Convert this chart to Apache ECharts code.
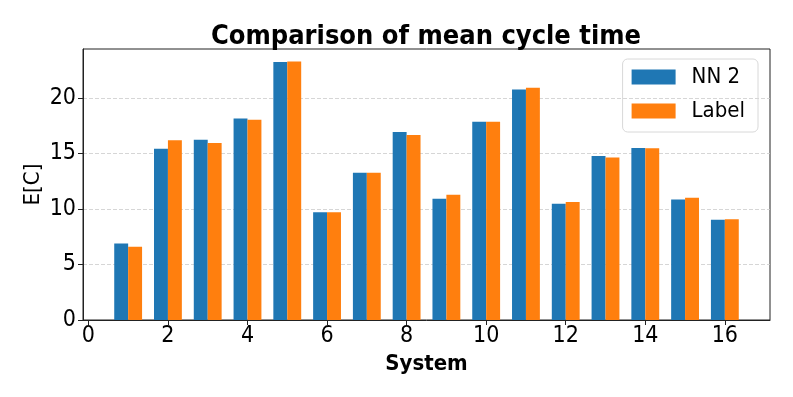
<!DOCTYPE html>
<html>
<head>
<meta charset="utf-8">
<script src="https://cdn.jsdelivr.net/npm/echarts@6/dist/echarts.min.js"></script>
<style>
  html, body { margin: 0; padding: 0; background: #fff; }
  #chart { width: 793px; height: 397px; }
</style>
</head>
<body>
<div id="chart"></div>
<script>
// systems 1..16
var systems = [1, 2, 3, 4, 5, 6, 7, 8, 9, 10, 11, 12, 13, 14, 15, 16];
var nn2 = [6.89, 15.43, 16.24, 18.14, 23.22, 9.71, 13.26, 16.93, 10.92, 17.86, 20.75, 10.47, 14.77, 15.49, 10.86, 9.02];
var label = [6.59, 16.18, 15.94, 18.02, 23.28, 9.71, 13.26, 16.66, 11.28, 17.86, 20.90, 10.62, 14.62, 15.46, 11.01, 9.08];
var xTicks = [0, 2, 4, 6, 8, 10, 12, 14, 16];
var yTicks = [0, 5, 10, 15, 20];

var barW = 0.35;
var font = 'DejaVu Sans Condensed';

var chart = echarts.init(document.getElementById('chart'));

// 画柱子，宽度按数据单位算
function barRender(offset) {
  return function (params, api) {
    var x = api.value(0) + offset;
    var y = api.value(1);
    var p0 = api.coord([x - barW / 2, y]);
    var p1 = api.coord([x + barW / 2, 0]);
    return {
      type: 'rect',
      shape: { x: p0[0], y: p0[1], width: p1[0] - p0[0], height: p1[1] - p0[1] },
      style: api.style()
    };
  };
}

chart.setOption({
  animation: false,
  textStyle: { fontFamily: font },
  title: {
    text: 'Comparison of mean cycle time',
    left: 421,
    textAlign: 'center',
    top: 18,
    textStyle: { fontFamily: font, fontWeight: 'bold', fontSize: 27, color: '#000' }
  },
  legend: {
    orient: 'vertical',
    right: 35,
    top: 59,
    padding: [7, 13, 10, 9],
    itemWidth: 44,
    itemHeight: 15,
    itemGap: 12,
    borderColor: '#d8d8d8',
    borderWidth: 1,
    borderRadius: 5,
    textStyle: { fontFamily: font, fontSize: 22, lineHeight: 22, color: '#000', padding: [0, 0, 0, 11] },
    data: [{ name: 'NN 2', icon: 'rect' }, { name: 'Label', icon: 'rect' }]
  },
  grid: { left: 83, right: 23, top: 49, bottom: 77, show: true, borderColor: '#222', borderWidth: 1 },
  xAxis: {
    type: 'value',
    min: -0.135,
    max: 17.135,
    name: 'System',
    nameLocation: 'middle',
    nameGap: 32,
    nameTextStyle: { fontFamily: font, fontWeight: 'bold', fontSize: 22, color: '#000' },
    axisLine: { show: true, lineStyle: { color: '#222' } },
    axisTick: { show: true, customValues: xTicks, length: 5, lineStyle: { color: '#222' } },
    axisLabel: { customValues: xTicks, fontFamily: font, fontSize: 23, color: '#000', margin: 5 },
    splitLine: { show: false }
  },
  yAxis: {
    type: 'value',
    min: 0,
    max: 24.4,
    name: 'E[C]',
    nameLocation: 'middle',
    nameGap: 50,
    nameRotate: 90,
    nameMoveOverlap: false,
    nameTextStyle: { fontFamily: font, fontSize: 22, color: '#000', verticalAlign: 'middle' },
    axisLine: { show: true, onZero: false, lineStyle: { color: '#222' } },
    axisTick: { show: true, customValues: yTicks, length: 5, lineStyle: { color: '#222' } },
    axisLabel: { customValues: yTicks, fontFamily: font, fontSize: 23, color: '#000', margin: 7 },
    splitLine: { show: true, lineStyle: { color: '#ccc', type: [4, 2], width: 0.8 } }
  },
  series: [
    {
      name: 'NN 2',
      type: 'custom',
      renderItem: barRender(-barW / 2),
      itemStyle: { color: '#1f77b4' },
      encode: { x: 0, y: 1 },
      data: systems.map(function (s, i) { return [s, nn2[i]]; })
    },
    {
      name: 'Label',
      type: 'custom',
      renderItem: barRender(barW / 2),
      itemStyle: { color: '#ff7f0e' },
      encode: { x: 0, y: 1 },
      data: systems.map(function (s, i) { return [s, label[i]]; })
    }
  ]
});
</script>
</body>
</html>
